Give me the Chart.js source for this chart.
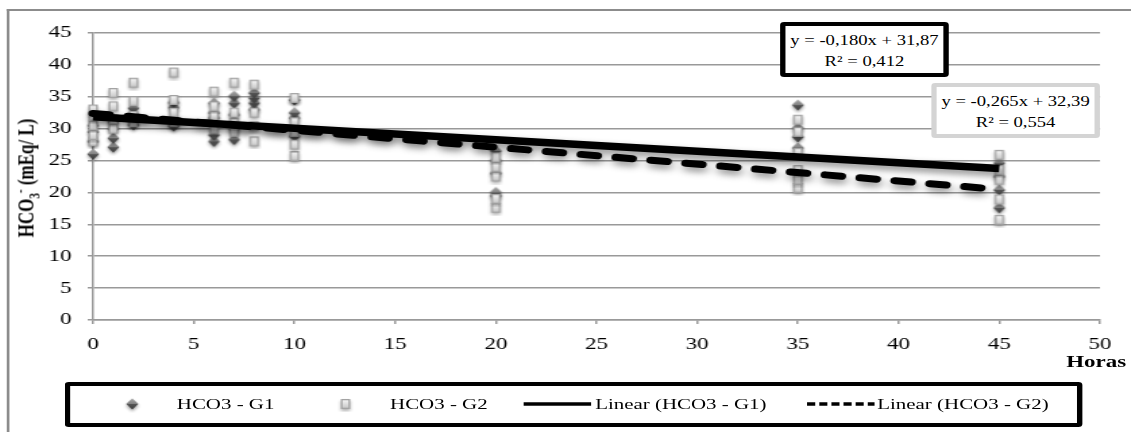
<!DOCTYPE html>
<html>
<head>
<meta charset="utf-8">
<script src="https://cdn.jsdelivr.net/npm/chart.js@4.4.0/dist/chart.umd.min.js"></script>
<style>
  body { margin: 0; width: 1131px; height: 432px; overflow: hidden; background: #fff; }
  /* o gráfico original foi esticado na horizontal, por isso o scaleX */
  #wrap { position: relative; width: 838px; height: 432px; transform: scaleX(1.3496); transform-origin: 0 0;
          font-family: "Liberation Serif", serif; color: #000; }
  #moldura { position: absolute; left: 5px; top: 9px; width: 900px; height: 500px;
             border-left: 2px solid #8c8c8c; border-top: 2px solid #8c8c8c; }
  #grafico { position: absolute; left: 0; top: 0; }
  .eq { position: absolute; background: #fff; text-align: center; font-size: 13.8px; line-height: 21px;
        border-radius: 3px; box-sizing: border-box; padding-top: 4px; white-space: nowrap; }
  #eq1 { left: 578px; top: 22px; width: 125px; height: 55px; border: 4px solid #000; }
  #eq2 { left: 690px; top: 83px; width: 125px; height: 55px; border: 4px solid #d4d4d4; }
  #ytitulo { position: absolute; left: 20px; top: 178px; transform: translate(-50%, -50%) rotate(-90deg);
             font-weight: bold; font-size: 17px; white-space: nowrap; }
  #ytitulo sub, #ytitulo sup { font-size: 11px; }
  #xtitulo { position: absolute; left: 790px; top: 352px; font-weight: bold; font-size: 17px; }
  #legenda { position: absolute; left: 48px; top: 382px; width: 754px; height: 45px; border: 4px solid #000;
             border-radius: 3px; box-sizing: border-box; }
  .item { position: absolute; top: 404px; transform: translateY(-50%); white-space: nowrap; font-size: 15.5px; }
  .marca { position: absolute; top: 404px; transform: translate(-50%, -50%); }
</style>
</head>
<body>
<div id="wrap">
  <div id="moldura"></div>
  <canvas id="grafico" width="838" height="432"></canvas>
  <div id="ytitulo">HCO<sub>3</sub><sup>-</sup> (mEq/ L)</div>
  <div id="xtitulo">Horas</div>
  <div class="eq" id="eq1"></div>
  <div class="eq" id="eq2"></div>
  <div id="legenda"></div>
</div>
<script>
// Dados (HCO3 em mEq/L por hora)
const g1Horas = [0, 0, 0, 0, 1, 1, 1, 1, 2, 2, 2, 2, 4, 4, 4, 4, 6, 6, 6, 6, 6, 7, 7, 7, 7, 7,
  8, 8, 8, 8, 10, 10, 10, 10, 20, 20, 20, 20, 20, 35, 35, 35, 35, 45, 45, 45, 45];
const g1Valores = [26, 28, 29.5, 30.5, 27.1, 28.5, 30, 31, 30.6, 31.5, 32.2, 33.2, 30.4, 31.5, 33.3, 34.1,
  28, 29, 31.7, 32.5, 34, 28.3, 30, 32.2, 34, 35.1, 33, 34, 34.8, 35.6, 28.8, 31.7, 32.5, 34.5,
  19.5, 20, 23, 25, 26.5, 27, 28.7, 30.1, 33.7, 17.6, 20.4, 22.5, 24.6];

const g2Horas = [0, 0, 0, 0, 0, 1, 1, 1, 1, 2, 2, 2, 2, 4, 4, 4, 4, 6, 6, 6, 6, 7, 7, 7, 7,
  8, 8, 8, 8, 10, 10, 10, 10, 10, 20, 20, 20, 20, 20, 35, 35, 35, 35, 35, 35, 45, 45, 45, 45, 45];
const g2Valores = [28, 29, 30.5, 32, 33, 30, 31.5, 33.5, 35.6, 31, 32, 34.3, 37.2, 31, 32.5, 34.5, 38.8,
  30, 32, 33.5, 35.8, 29.5, 30.9, 32.5, 37.2, 28, 30.4, 32.5, 36.9, 25.7, 27.5, 29.5, 31, 34.8,
  17.6, 19, 22.5, 24, 25.5, 20.7, 22, 23.5, 26.2, 29.5, 31.4, 15.7, 18.9, 22, 23.5, 25.9];

// Linhas de tendência (equações do gráfico)
const inclinacoes = [-0.180, -0.265];
const interceptos = [31.87, 32.39];
const r2 = [0.412, 0.554];
const faixaTendencia = [0, 45];

const nomesSeries = ["HCO3 - G1", "HCO3 - G2", "Linear (HCO3 - G1)", "Linear (HCO3 - G2)"];

const pontos = (xs, ys) => xs.map((x, i) => ({ x: x, y: ys[i] }));
const tendencia = (k) => faixaTendencia.map((x) => ({ x: x, y: inclinacoes[k] * x + interceptos[k] }));
const fmt = (v, casas) => v.toFixed(casas).replace(".", ",");

// Marcadores com um pouco de relevo
const fazLosango = () => {
  const c = document.createElement("canvas");
  c.width = 16; c.height = 18;
  const g = c.getContext("2d");
  g.shadowColor = "rgba(0,0,0,0.35)"; g.shadowBlur = 3; g.shadowOffsetY = 2;
  g.beginPath();
  g.moveTo(8, 3.5); g.lineTo(12.5, 9); g.lineTo(8, 14.5); g.lineTo(3.5, 9); g.closePath();
  const grad = g.createLinearGradient(0, 3.5, 0, 14.5);
  grad.addColorStop(0, "#8c8c8c");
  grad.addColorStop(0.5, "#555");
  grad.addColorStop(1, "#3c3c3c");
  g.fillStyle = grad;
  g.fill();
  g.shadowColor = "transparent";
  g.fillStyle = "rgba(255,255,255,0.25)";
  g.beginPath(); g.moveTo(8, 3.5); g.lineTo(12.5, 9); g.lineTo(3.5, 9); g.closePath(); g.fill();
  return c;
};

const fazQuadrado = () => {
  const c = document.createElement("canvas");
  c.width = 12; c.height = 16;
  const g = c.getContext("2d");
  g.shadowColor = "rgba(0,0,0,0.3)"; g.shadowBlur = 3; g.shadowOffsetY = 2;
  g.fillStyle = "#a3a3a3";
  g.fillRect(2.5, 3, 7, 10);
  g.shadowColor = "transparent";
  const grad = g.createLinearGradient(0, 4, 0, 12);
  grad.addColorStop(0, "#f4f4f4");
  grad.addColorStop(1, "#c8c8c8");
  g.fillStyle = grad;
  g.fillRect(3.8, 4.3, 4.4, 7.4);
  return c;
};

const fazLinha = (tracejado) => {
  const c = document.createElement("canvas");
  c.width = 50; c.height = 8;
  const g = c.getContext("2d");
  g.strokeStyle = "#000"; g.lineWidth = 3.5;
  if (tracejado) g.setLineDash([6, 3]);
  g.beginPath(); g.moveTo(0, 4); g.lineTo(50, 4); g.stroke();
  return c;
};

const losango = fazLosango();
const quadrado = fazQuadrado();

// Sombra nas linhas de tendência
const sombra = {
  id: "sombra",
  beforeDatasetDraw(chart, args) {
    if (!chart.data.datasets[args.index].sombra) return;
    const ctx = chart.ctx;
    ctx.save();
    ctx.shadowColor = "rgba(0,0,0,0.45)";
    ctx.shadowBlur = 7;
    ctx.shadowOffsetX = 1;
    ctx.shadowOffsetY = 4;
  },
  afterDatasetDraw(chart, args) {
    if (!chart.data.datasets[args.index].sombra) return;
    chart.ctx.restore();
  },
};

Chart.defaults.font.family = '"Liberation Serif", serif';
Chart.defaults.color = "#000";

const initGrafico = () => {
  const ctx = document.getElementById("grafico").getContext("2d");
  new Chart(ctx, {
    type: "scatter",
    data: {
      datasets: [
        {
          label: nomesSeries[0],
          data: pontos(g1Horas, g1Valores),
          pointStyle: losango,
          clip: false,
          order: 2,
        },
        {
          label: nomesSeries[1],
          data: pontos(g2Horas, g2Valores),
          pointStyle: quadrado,
          clip: false,
          order: 1,
        },
        {
          label: nomesSeries[2],
          data: tendencia(0),
          showLine: true,
          borderColor: "#000",
          borderWidth: 7.5,
          pointRadius: 0,
          sombra: true,
          clip: false,
          order: 0,
        },
        {
          label: nomesSeries[3],
          data: tendencia(1),
          showLine: true,
          borderColor: "#000",
          borderWidth: 7,
          borderDash: [12, 14],
          borderCapStyle: "round",
          pointRadius: 0,
          sombra: true,
          clip: false,
          order: 0,
        },
      ],
    },
    options: {
      responsive: false,
      animation: false,
      layout: { padding: { left: 0, top: 33, right: 23, bottom: 72 } },
      plugins: { legend: { display: false }, tooltip: { enabled: false } },
      scales: {
        x: {
          type: "linear",
          min: 0,
          max: 50,
          ticks: { stepSize: 5, padding: 10, font: { size: 17 } },
          grid: { drawOnChartArea: false, drawTicks: true, tickLength: 4, color: "#999", lineWidth: 1.5 },
          border: { display: true, color: "#999", width: 1.5 },
          afterFit: (s) => { s.height = 40; },
        },
        y: {
          min: 0,
          max: 45,
          ticks: { stepSize: 5, padding: 12, font: { size: 17 } },
          grid: { color: "#999", lineWidth: 1.5, tickLength: 4 },
          border: { display: true, color: "#999", width: 1.5 },
          afterFit: (s) => { s.width = 69; },
        },
      },
    },
    plugins: [sombra],
  });
};

const initTextos = () => {
  ["eq1", "eq2"].forEach((id, k) => {
    const sinal = interceptos[k] >= 0 ? " + " : " - ";
    document.getElementById(id).innerHTML =
      "y = " + fmt(inclinacoes[k], 3) + "x" + sinal + fmt(Math.abs(interceptos[k]), 2) +
      "<br>R² = " + fmt(r2[k], 3);
  });

  const wrap = document.getElementById("wrap");
  const marcas = [losango, quadrado, fazLinha(false), fazLinha(true)];
  const posMarca = [98, 256, 413, 623];
  const posTexto = [131, 289, 441, 650];
  nomesSeries.forEach((nome, i) => {
    const m = marcas[i];
    let el = m;
    if (i < 2) {
      el = document.createElement("canvas");
      el.width = m.width; el.height = m.height;
      el.getContext("2d").drawImage(m, 0, 0);
    }
    el.className = "marca";
    el.style.left = posMarca[i] + "px";
    wrap.appendChild(el);
    const t = document.createElement("div");
    t.className = "item";
    t.style.left = posTexto[i] + "px";
    t.textContent = nome;
    wrap.appendChild(t);
  });
};

document.addEventListener("DOMContentLoaded", () => {
  initGrafico();
  initTextos();
});
</script>
</body>
</html>
